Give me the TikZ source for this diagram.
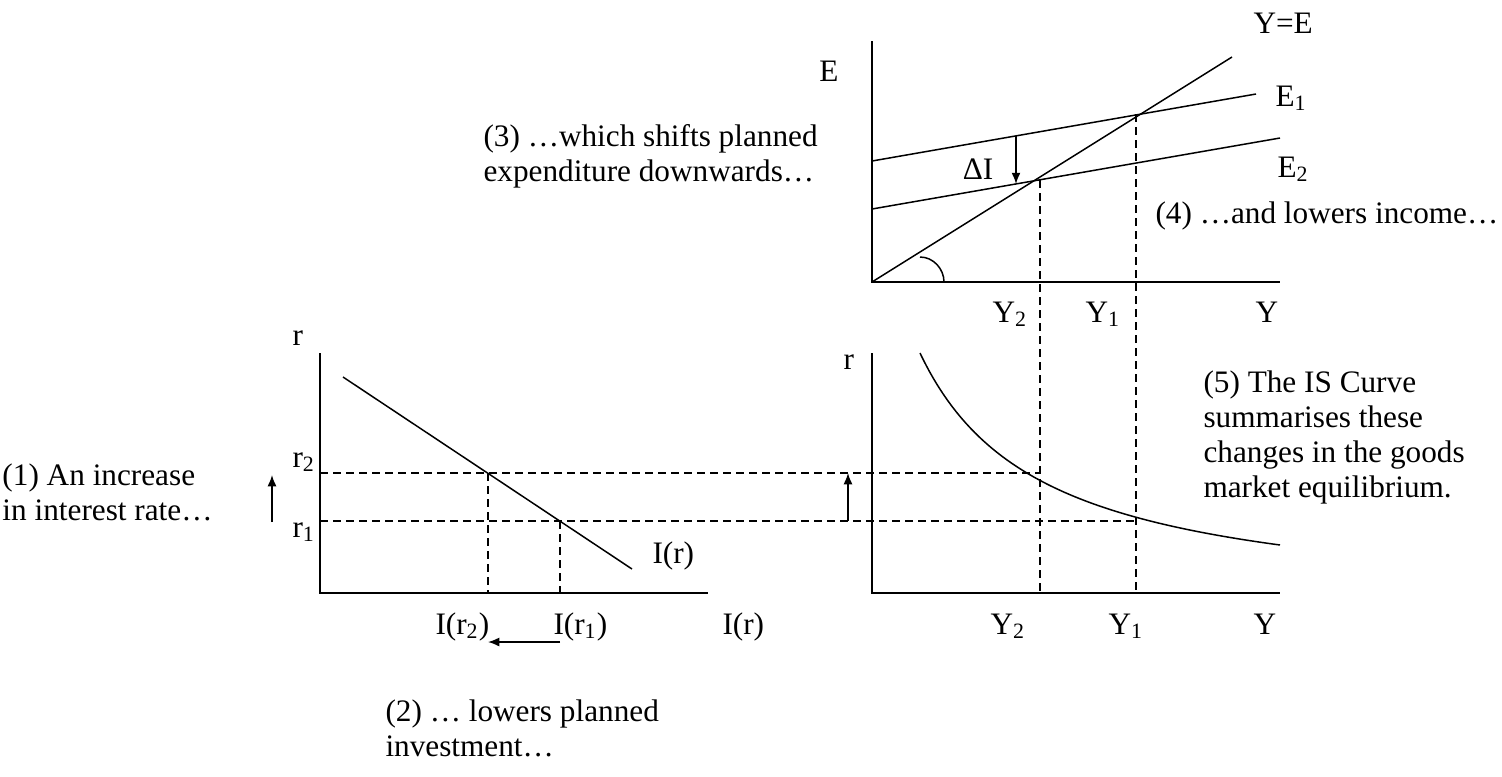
\documentclass[tikz,border=0pt]{standalone}
\usepackage{fontspec}
\setmainfont{Liberation Serif}
\usetikzlibrary{arrows.meta}
\begin{document}
\begin{tikzpicture}[x=0.4pt,y=-0.4pt,
  font=\fontsize{12.5pt}{14pt}\selectfont,
  axis/.style={line width=0.8pt},
  curve/.style={line width=0.6pt},
  guide/.style={line width=0.6pt, dash pattern=on 3.2pt off 2pt},
  shiftarrow/.style={line width=0.6pt, -{Latex[length=4.5pt,width=3.6pt]}},
  lbl/.style={inner sep=0pt, anchor=base west},
  txt/.style={inner sep=0pt, anchor=west, align=left}]
\useasboundingbox (0,0) rectangle (1502,776);

% ---------- top graph: Keynesian cross ----------
\coordinate (TO) at (872,282);
\coordinate (TT) at (872,41);
\coordinate (TR) at (1280,282);
\draw[axis] (TT) -- (TO) -- (TR);
\coordinate (YEend) at (1232,57);
\draw[curve] (TO) -- (YEend);
\coordinate (E1a) at (872,161);
\coordinate (E1b) at (1256,94);
\draw[curve] (E1a) -- (E1b);
\coordinate (E2a) at (872,209);
\coordinate (E2b) at (1280,138);
\draw[curve] (E2a) -- (E2b);
\coordinate (ArcA) at (920,257);
\coordinate (ArcB) at (944,282);
\draw[curve] (ArcA) .. controls (933.25,257) and (944,268.75) .. (ArcB);
\coordinate (DIa) at (1016,136);
\coordinate (DIb) at (1016,184);
\draw[shiftarrow] (DIa) -- (DIb);

% ---------- vertical guides ----------
\coordinate (Y2top) at (1040,180);
\coordinate (Y2bot) at (1040,593);
\coordinate (Y1top) at (1136,114);
\coordinate (Y1bot) at (1136,593);
\draw[guide] (Y2top) -- (Y2bot);
\draw[guide] (Y1top) -- (Y1bot);

% ---------- bottom left graph: investment ----------
\coordinate (LO) at (320,593);
\coordinate (LT) at (320,353);
\coordinate (LR) at (708,593);
\draw[axis] (LT) -- (LO) -- (LR);
\coordinate (Ia) at (343,377);
\coordinate (Ib) at (632,569);
\draw[curve] (Ia) -- (Ib);
\coordinate (R2a) at (320,473);
\coordinate (R2b) at (1040,473);
\coordinate (R1a) at (320,521);
\coordinate (R1b) at (1136,521);
\draw[guide] (R2a) -- (R2b);
\draw[guide] (R1a) -- (R1b);
\coordinate (IR2a) at (488,473);
\coordinate (IR2b) at (488,593);
\coordinate (IR1a) at (560,521);
\coordinate (IR1b) at (560,593);
\draw[guide] (IR2a) -- (IR2b);
\draw[guide] (IR1a) -- (IR1b);

% ---------- bottom right graph: IS curve ----------
\coordinate (RO) at (872,593);
\coordinate (RT) at (872,353);
\coordinate (RR) at (1280,593);
\draw[axis] (RT) -- (RO) -- (RR);
\draw[curve] plot[domain=920:1280, samples=80] (\x, {610.2 - 314.5/((\x-797.7)/100)});

% ---------- shift arrows ----------
\coordinate (UpLa) at (272,522);
\coordinate (UpLb) at (272,475);
\draw[shiftarrow] (UpLa) -- (UpLb);
\coordinate (UpRa) at (848,521);
\coordinate (UpRb) at (848,473);
\draw[shiftarrow] (UpRa) -- (UpRb);
\coordinate (LeftA) at (560,642);
\coordinate (LeftB) at (488,642);
\draw[shiftarrow] (LeftA) -- (LeftB);

% ---------- labels ----------
\node[lbl] (lYE) at (1253,33) {Y=E};
\node[lbl, anchor=base] (lE) at (829,81) {E};
\node[lbl] (lE1) at (1275,106) {E\textsubscript{1}};
\node[lbl] (lE2) at (1277,177) {E\textsubscript{2}};
\node[lbl, anchor=base] (lDI) at (978,179) {ΔI};
\node[lbl] (tY2) at (992,322) {Y\textsubscript{2}};
\node[lbl] (tY1) at (1085,322) {Y\textsubscript{1}};
\node[lbl] (tY) at (1255,322) {Y};

\node[lbl] (lr) at (292,345) {r};
\node[lbl] (lr2) at (292,467) {r\textsubscript{2}};
\node[lbl] (lr1) at (292,537) {r\textsubscript{1}};
\node[lbl] (lIr) at (652,563) {I(r)};
\node[lbl] (bIr2) at (435,634) {I(r\textsubscript{2})};
\node[lbl] (bIr1) at (553,634) {I(r\textsubscript{1})};
\node[lbl] (bIr) at (722,634) {I(r)};

\node[lbl] (rr) at (843,369) {r};
\node[lbl] (bY2) at (990,634) {Y\textsubscript{2}};
\node[lbl] (bY1) at (1108,634) {Y\textsubscript{1}};
\node[lbl] (bY) at (1253,634) {Y};

% ---------- commentary ----------
\node[txt] (c1) at (2,492) {(1) An increase\\in interest rate…};
\node[txt] (c2) at (385,728) {(2) … lowers planned\\investment…};
\node[txt] (c3) at (483,156) {(3) …which shifts planned\\expenditure downwards…};
\node[txt] (c4) at (1155,216) {(4) …and lowers income…};
\node[txt] (c5) at (1203,437) {(5) The IS Curve\\summarises these\\changes in the goods\\market equilibrium.};
\end{tikzpicture}
\end{document}
